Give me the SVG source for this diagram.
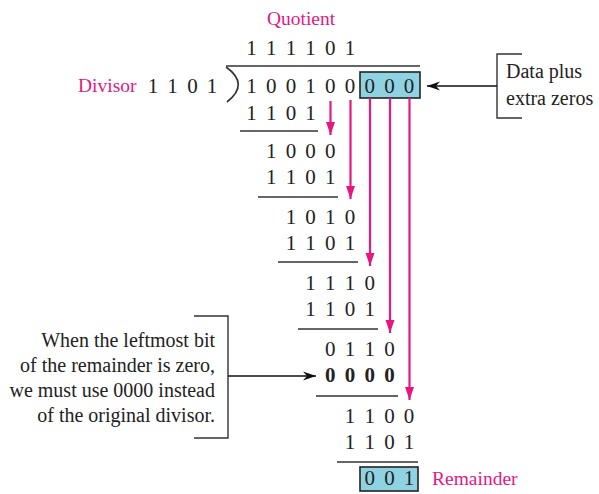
<svg xmlns="http://www.w3.org/2000/svg" width="599" height="494" viewBox="0 0 599 494">
<style>
text{font-family:"Liberation Serif","Times New Roman",serif;}
.d{font-size:21px;fill:#222;text-anchor:middle;}
.b{font-weight:bold;}
.pk{font-size:19.5px;fill:#e6177f;}
.t{font-size:20px;fill:#222;}
.r{stroke:#333;stroke-width:1.7;fill:none;}
.box{fill:#8fd3e3;stroke:#222;stroke-width:1.6;}
.pa{stroke:#e6177f;stroke-width:2.2;fill:none;marker-end:url(#ph);}
.ba{stroke:#111;stroke-width:1.4;fill:none;marker-end:url(#bh);}
.br{stroke:#333;stroke-width:1.4;fill:none;}
</style>
<defs>
<marker id="ph" markerUnits="userSpaceOnUse" markerWidth="14" markerHeight="14" viewBox="0 0 14 14" refX="13" refY="7" orient="auto">
<path d="M0,2.5 L13,7 L0,11.5 Z" fill="#e6177f"/>
</marker>
<marker id="bh" markerUnits="userSpaceOnUse" markerWidth="14" markerHeight="12" viewBox="0 0 14 12" refX="13" refY="6" orient="auto">
<path d="M0,1.5 L13,6 L0,10.5 L4,6 Z" fill="#111"/>
</marker>
</defs>

<g id="quotient-label"><text class="pk" x="301" y="25" text-anchor="middle">Quotient</text></g>
<g id="quotient"><text class="d" x="251.5 271.2 290.9 310.6 330.3 350" y="55">111101</text></g>

<g id="division-bracket">
<line class="r" x1="226" y1="66" x2="420" y2="66"/>
<path class="r" stroke-width="2" d="M226,67 Q250,84 227,102"/>
</g>

<g id="divisor">
<text class="pk" x="78" y="92">Divisor</text>
<text class="d" x="153 172.5 192.5 212" y="93">1101</text>
</g>

<g id="dividend">
<rect class="box" x="360" y="72" width="60" height="26"/>
<text class="d" x="251.5 271.2 290.9 310.6 330.3 350 369.7 389.4 409.1" y="93">100100000</text>
</g>

<g id="step1">
<text class="d" x="251.5 271.2 290.9 310.6" y="120">1101</text>
<line class="r" x1="240" y1="131" x2="318" y2="131"/>
</g>
<g id="step2">
<text class="d" x="271.2 290.9 310.6 330.3" y="158">1000</text>
<text class="d" x="271.2 290.9 310.6 330.3" y="184">1101</text>
<line class="r" x1="258" y1="197" x2="338" y2="197"/>
</g>
<g id="step3">
<text class="d" x="290.9 310.6 330.3 350" y="224">1010</text>
<text class="d" x="290.9 310.6 330.3 350" y="250">1101</text>
<line class="r" x1="278" y1="262" x2="358" y2="262"/>
</g>
<g id="step4">
<text class="d" x="310.6 330.3 350 369.7" y="290">1110</text>
<text class="d" x="310.6 330.3 350 369.7" y="316">1101</text>
<line class="r" x1="298" y1="329" x2="378" y2="329"/>
</g>
<g id="step5">
<text class="d" x="330.3 350 369.7 389.4" y="356">0110</text>
<text class="d b" x="330.3 350 369.7 389.4" y="382">0000</text>
<line class="r" x1="316" y1="396" x2="398" y2="396"/>
</g>
<g id="step6">
<text class="d" x="350 369.7 389.4 409.1" y="423">1100</text>
<text class="d" x="350 369.7 389.4 409.1" y="449">1101</text>
<line class="r" x1="337" y1="462" x2="418" y2="462"/>
</g>
<g id="remainder">
<rect class="box" x="360" y="467" width="58" height="24"/>
<text class="d" x="369.7 389.4 409.1" y="485">001</text>
<text class="pk" x="432" y="485">Remainder</text>
</g>

<g id="note-data">
<path class="br" d="M522,54 H497 V118 H522"/>
<text class="t" x="506" y="78">Data plus</text>
<text class="t" x="506" y="105">extra zeros</text>
</g>

<g id="note-zero">
<path class="br" d="M194,316 H228 V438 H194"/>
<text class="t" text-anchor="end" x="215" y="347">When the leftmost bit</text>
<text class="t" text-anchor="end" x="215" y="372">of the remainder is zero,</text>
<text class="t" text-anchor="end" x="215" y="397">we must use 0000 instead</text>
<text class="t" text-anchor="end" x="215" y="422">of the original divisor.</text>
</g>

<g id="connectors">
<line class="pa" x1="330.5" y1="101" x2="330.5" y2="135"/>
<line class="pa" x1="350.5" y1="100" x2="350.5" y2="199"/>
<line class="pa" x1="370" y1="98" x2="370" y2="266"/>
<line class="pa" x1="390" y1="98" x2="390" y2="333"/>
<line class="pa" x1="409.5" y1="98" x2="409.5" y2="400"/>
<line class="ba" x1="497" y1="86" x2="427" y2="86"/>
<line class="ba" x1="228" y1="376" x2="316" y2="376"/>
</g>
</svg>
